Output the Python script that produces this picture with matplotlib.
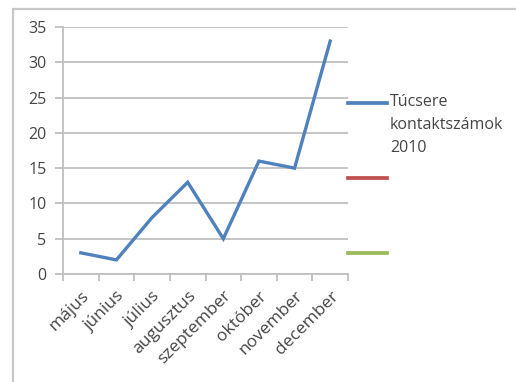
import matplotlib
matplotlib.use("Agg")
import matplotlib.pyplot as plt
from matplotlib.lines import Line2D
from matplotlib.patches import Rectangle
import numpy as np

months = ["május", "június", "július", "augusztus", "szeptember",
          "október", "november", "december"]
contacts_2010 = [3, 2, 8, 13, 5, 16, 15, 33]
series_label = "Túcsere\nkontaktszámok\n2010"
y_ticks = [0, 5, 10, 15, 20, 25, 30, 35]

BLUE = "#4F81BD"
RED = "#C0504D"
GREEN = "#9BBB59"
GRID = "#BFBFBF"
TEXT = "#454545"

plt.rcParams["font.family"] = ["Open Sans", "DejaVu Sans"]

fig = plt.figure(figsize=(5.16, 3.82), dpi=100)
fig.patch.set_facecolor("white")

# chart frame
fig.add_artist(Rectangle((13 / 516, -0.1), 1.2, 1 - 9 / 382 + 0.1,
                         transform=fig.transFigure, fill=False,
                         edgecolor="#C8C8C8", linewidth=1.6))

ax = fig.add_axes([63 / 516, 108 / 382, 285 / 516, 247 / 382])
x = np.arange(len(months))
ax.plot(x, contacts_2010, color=BLUE, linewidth=2.4, solid_joinstyle="miter")

ax.set_xlim(-0.5, len(months) - 0.5)
ax.set_ylim(0, 35)
ax.set_yticks(y_ticks)
ax.set_yticklabels([str(v) for v in y_ticks], color=TEXT, fontsize=11.5)
ax.yaxis.grid(True, color=GRID, linewidth=1.3)
ax.set_axisbelow(True)

ax.set_xticks(x)
ax.set_xticklabels(months, rotation=45, ha="right", rotation_mode="anchor",
                   color=TEXT, fontsize=12.5)
ax.set_xticks(np.arange(-0.5, len(months)), minor=True)
ax.tick_params(axis="x", which="major", length=0, pad=10)
ax.tick_params(axis="x", which="minor", length=5, color=GRID, width=1.3)
ax.tick_params(axis="y", length=6, color=GRID, width=1.3, pad=6)

for side in ("top", "right"):
    ax.spines[side].set_visible(False)
for side in ("left", "bottom"):
    ax.spines[side].set_color(GRID)
    ax.spines[side].set_linewidth(1.3)

# legend entries
def legend_line(y_px, color):
    yf = 1 - y_px / 382
    fig.add_artist(Line2D([348 / 516, 387 / 516], [yf, yf],
                          transform=fig.transFigure, color=color,
                          linewidth=2.7))

legend_line(103, BLUE)
legend_line(178, RED)
legend_line(253, GREEN)
fig.text(390 / 516, 1 - 94 / 382, series_label, color=TEXT, fontsize=11.5,
         va="top", ha="left", linespacing=1.6)

fig.savefig("out.png", dpi=100, facecolor="white")
